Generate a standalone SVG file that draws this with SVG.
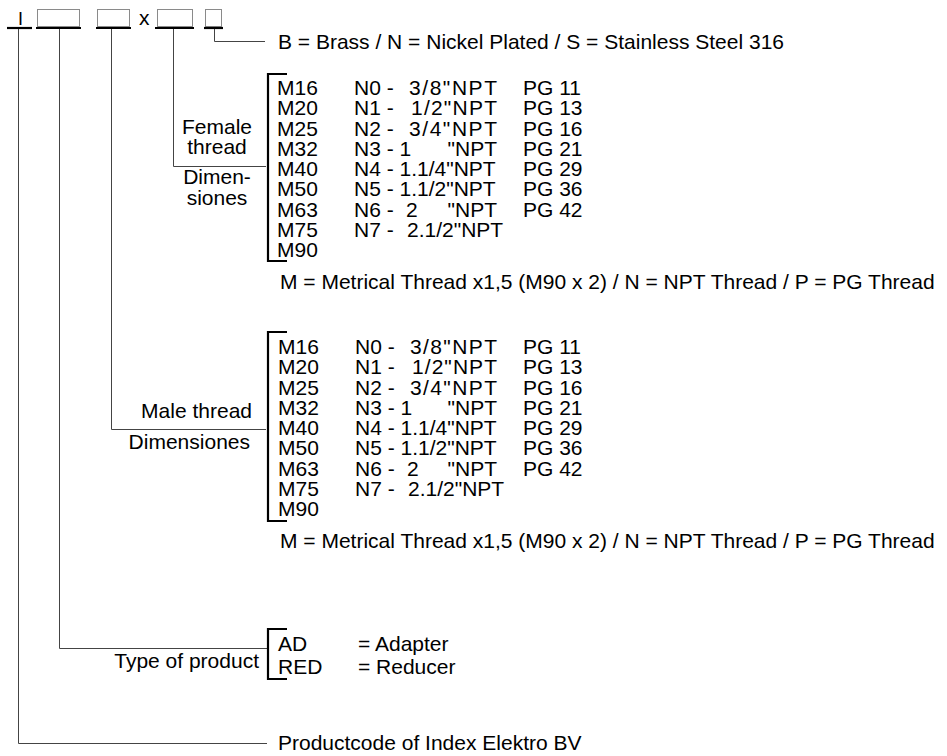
<svg xmlns="http://www.w3.org/2000/svg" width="947" height="756" viewBox="0 0 947 756">
<style>
text{font-family:"Liberation Sans",Arial,sans-serif;font-size:21px;fill:#000}
.box{fill:none;stroke:#8a8a8a;stroke-width:1}
.ul{stroke:#000;stroke-width:2.2;fill:none}
.br{stroke:#000;stroke-width:2.2;fill:none}
.cn{stroke:#444;stroke-width:1;fill:none}
.mid{text-anchor:middle}
.end{text-anchor:end}
</style>
<rect width="947" height="756" fill="#fff"/>
<g id="code">
<text x="18" y="25" style="font-size:18px">I</text>
<line class="ul" x1="7" y1="28" x2="32" y2="28"/>
<rect class="box" x="37.5" y="9.5" width="42" height="17"/>
<line class="ul" x1="36" y1="28" x2="81" y2="28"/>
<rect class="box" x="97.5" y="9.5" width="32" height="17"/>
<line class="ul" x1="96" y1="28" x2="131" y2="28"/>
<text x="139" y="25">x</text>
<rect class="box" x="157.5" y="9.5" width="35" height="17"/>
<line class="ul" x1="155" y1="28" x2="194" y2="28"/>
<rect class="box" x="205.5" y="9.5" width="16" height="17"/>
<line class="ul" x1="204" y1="28" x2="223" y2="28"/>
</g>
<g id="connectors">
<polyline class="cn" points="214.5,29 214.5,41.5 265,41.5"/>
<polyline class="cn" points="173.5,29 173.5,166.5 266,166.5"/>
<polyline class="cn" points="111.5,29 111.5,429.5 266,429.5"/>
<polyline class="cn" points="59.5,29 59.5,648.5 267,648.5"/>
<polyline class="cn" points="18.5,29 18.5,743.5 267,743.5"/>
</g>
<g id="material">
<text x="278" y="49">B = Brass / N = Nickel Plated / S = Stainless Steel 316</text>
</g>
<g id="female">
<text class="mid" x="217" y="134">Female</text>
<text class="mid" x="217" y="154">thread</text>
<text class="mid" x="217" y="184">Dimen-</text>
<text class="mid" x="217" y="205">siones</text>
<polyline class="br" points="287,74 268,74 268,261 287,261"/>
<text x="277" y="95">M16</text>
<text x="277" y="115.25">M20</text>
<text x="277" y="135.5">M25</text>
<text x="277" y="155.75">M32</text>
<text x="277" y="176">M40</text>
<text x="277" y="196.25">M50</text>
<text x="277" y="216.5">M63</text>
<text x="277" y="236.75">M75</text>
<text x="277" y="257">M90</text>
<text x="354" y="95">N0 -</text><text x="409" y="95" textLength="88" lengthAdjust="spacing">3/8"NPT</text>
<text x="354" y="115.25">N1 -</text><text x="411" y="115.25" textLength="86" lengthAdjust="spacing">1/2"NPT</text>
<text x="354" y="135.5">N2 -</text><text x="409" y="135.5" textLength="88" lengthAdjust="spacing">3/4"NPT</text>
<text x="354" y="155.75">N3 - 1</text><text class="end" x="497" y="155.75">"NPT</text>
<text x="354" y="176">N4 - 1.1/4"NPT</text>
<text x="354" y="196.25">N5 - 1.1/2"NPT</text>
<text x="354" y="216.5">N6 -</text><text x="406" y="216.5">2</text><text class="end" x="497" y="216.5">"NPT</text>
<text x="354" y="236.75">N7 -</text><text x="407" y="236.75">2.1/2"NPT</text>
<text x="523" y="95">PG 11</text>
<text x="523" y="115.25">PG 13</text>
<text x="523" y="135.5">PG 16</text>
<text x="523" y="155.75">PG 21</text>
<text x="523" y="176">PG 29</text>
<text x="523" y="196.25">PG 36</text>
<text x="523" y="216.5">PG 42</text>
<text x="280" y="289">M = Metrical Thread x1,5 (M90 x 2) / N = NPT Thread / P = PG Thread</text>
</g>
<g id="male">
<text class="end" x="252" y="418">Male thread</text>
<text class="end" x="250" y="449">Dimensiones</text>
<polyline class="br" points="287,332 268,332 268,521 287,521"/>
<text x="278" y="354">M16</text>
<text x="278" y="374.25">M20</text>
<text x="278" y="394.5">M25</text>
<text x="278" y="414.75">M32</text>
<text x="278" y="435">M40</text>
<text x="278" y="455.25">M50</text>
<text x="278" y="475.5">M63</text>
<text x="278" y="495.75">M75</text>
<text x="278" y="516">M90</text>
<text x="355" y="354">N0 -</text><text x="410" y="354" textLength="87" lengthAdjust="spacing">3/8"NPT</text>
<text x="355" y="374.25">N1 -</text><text x="412" y="374.25" textLength="85" lengthAdjust="spacing">1/2"NPT</text>
<text x="355" y="394.5">N2 -</text><text x="410" y="394.5" textLength="87" lengthAdjust="spacing">3/4"NPT</text>
<text x="355" y="414.75">N3 - 1</text><text class="end" x="497" y="414.75">"NPT</text>
<text x="355" y="435">N4 - 1.1/4"NPT</text>
<text x="355" y="455.25">N5 - 1.1/2"NPT</text>
<text x="355" y="475.5">N6 -</text><text x="407" y="475.5">2</text><text class="end" x="497" y="475.5">"NPT</text>
<text x="355" y="495.75">N7 -</text><text x="408" y="495.75">2.1/2"NPT</text>
<text x="523" y="354">PG 11</text>
<text x="523" y="374.25">PG 13</text>
<text x="523" y="394.5">PG 16</text>
<text x="523" y="414.75">PG 21</text>
<text x="523" y="435">PG 29</text>
<text x="523" y="455.25">PG 36</text>
<text x="523" y="475.5">PG 42</text>
<text x="280" y="548">M = Metrical Thread x1,5 (M90 x 2) / N = NPT Thread / P = PG Thread</text>
</g>
<g id="type">
<text class="end" x="259" y="668">Type of product</text>
<polyline class="br" points="287,629 268,629 268,679 287,679"/>
<text x="278" y="651">AD</text>
<text x="358" y="651">= Adapter</text>
<text x="278" y="674">RED</text>
<text x="358" y="674">= Reducer</text>
</g>
<g id="productcode">
<text x="278" y="750">Productcode of Index Elektro BV</text>
</g>
</svg>
